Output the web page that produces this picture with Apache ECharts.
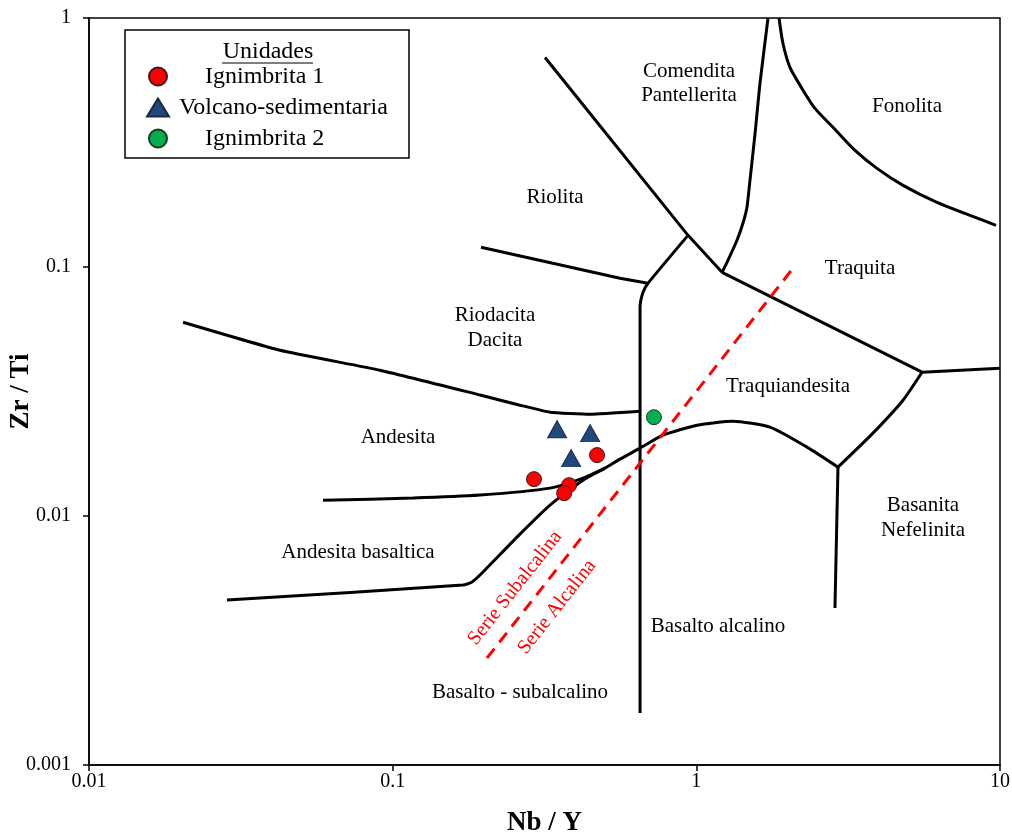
<!DOCTYPE html>
<html>
<head>
<meta charset="utf-8">
<script src="https://cdn.jsdelivr.net/npm/echarts@6/dist/echarts.min.js"></script>
<style>
html,body{margin:0;padding:0;background:#fff;}
#chart{width:1012px;height:836px;}
</style>
</head>
<body>
<div id="chart"></div>
<script>
// ---- Data (Nb/Y, Zr/Ti) ----
var ignimbrita1 = [[0.471, 0.01756], [0.292, 0.01406], [0.381, 0.01330], [0.367, 0.01235]];
var volcanoSed = [[0.348, 0.02232], [0.447, 0.02152], [0.387, 0.01708]];
var ignimbrita2 = [[0.725, 0.02493]];

// ---- Field boundaries (Nb/Y, Zr/Ti) ----
var bRiolitaComendita = [[0.3175, 0.694], [0.939, 0.134], [1.215, 0.0952]];
var bComenditaTraquita = [[1.215, 0.0952], [1.271, 0.1064], [1.361, 0.128], [1.424, 0.1498], [1.468, 0.1736], [1.502, 0.2228], [1.561, 0.344], [1.620, 0.546], [1.722, 1]];
var bFonolita = [[1.872, 1], [1.929, 0.790], [2.034, 0.633], [2.228, 0.521], [2.458, 0.4334], [2.884, 0.3536], [3.331, 0.2939], [3.934, 0.2489], [4.793, 0.2128], [6.200, 0.1818], [7.965, 0.1612], [9.701, 0.1470]];
var bTraquita = [[1.215, 0.0952], [5.535, 0.0378], [10, 0.0392]];
var bTraqBasanita = [[5.535, 0.0378], [4.793, 0.02918], [3.816, 0.02152], [2.927, 0.01571]];
var bBasanitaAlcalino = [[2.927, 0.01571], [2.861, 0.00427]];
var bTraqLower = [[0.02847, 0.004598], [0.1704, 0.005281], [0.1825, 0.00543], [0.1969, 0.005901], [0.2567, 0.008229], [0.3297, 0.01106], [0.4234, 0.01393], [0.5003, 0.01557], [0.5607, 0.01692], [0.6526, 0.01873], [0.7766, 0.02112], [1.005, 0.02316], [1.320, 0.02403], [1.748, 0.02274], [2.314, 0.0189], [2.927, 0.01571]];
var bAndesitaBas = [[0.05897, 0.01158], [0.1167, 0.0118], [0.1939, 0.01213], [0.3297, 0.01294], [0.4234, 0.01419], [0.5003, 0.01557]];
var bVertical = [[0.6526, 0.001619], [0.6526, 0.06889], [0.6674, 0.07915], [0.693, 0.086], [0.939, 0.134]];
var bRiolitaRiodacita = [[0.1954, 0.12], [0.5607, 0.0901], [0.693, 0.086]];
var bRiodacitaAndesita = [[0.0204, 0.05999], [0.04256, 0.04631], [0.09085, 0.0385], [0.1954, 0.03055], [0.2626, 0.02786], [0.3297, 0.02611], [0.4465, 0.02564], [0.6526, 0.02636]];
var serieDivide = [[0.2045, 0.00269], [2.081, 0.0988]];

var xTicks = ['0.01', '0.1', '1', '10'];
var yTicks = ['0.001', '0.01', '0.1', '1'];

var FONT = '"Liberation Serif", "Times New Roman", serif';

function boundary(data, smooth) {
  return {
    type: 'line', data: data, showSymbol: false, silent: true, smooth: smooth || false,
    lineStyle: { color: '#000', width: 3 }, z: 3, animation: false
  };
}
function lbl(text, x, y, opts) {
  opts = opts || {};
  return {
    type: 'text', x: x, y: y, rotation: opts.rot || 0, z: 50,
    style: {
      text: text, fill: opts.color || '#000', align: 'center', verticalAlign: 'middle',
      font: (opts.size || 21) + 'px ' + FONT
    }
  };
}

var chart = echarts.init(document.getElementById('chart'), null, { renderer: 'canvas' });
var option = {
  backgroundColor: '#fff',
  animation: false,
  grid: { left: 89, right: 12, top: 18, bottom: 71, containLabel: false, outerBoundsMode: 'none',
    show: true, borderColor: '#000', borderWidth: 1.5, backgroundColor: 'transparent' },
  xAxis: {
    type: 'log', logBase: 10, min: 0.01, max: 10,
    name: 'Nb / Y', nameLocation: 'middle', nameGap: 45, nameMoveOverlap: false,
    nameTextStyle: { fontFamily: FONT, fontWeight: 'bold', fontSize: 27, color: '#000' },
    axisLine: { show: true, onZero: false, lineStyle: { color: '#000', width: 1.5 } },
    axisTick: { show: true, inside: false, length: 6, lineStyle: { color: '#000', width: 1.5 } },
    minorTick: { show: false }, splitLine: { show: false },
    axisLabel: { fontFamily: FONT, fontSize: 20, color: '#000', margin: 7,
      formatter: function (v) { var i = Math.round(Math.log10(v)) + 2; return xTicks[i] !== undefined ? xTicks[i] : ''; } }
  },
  yAxis: {
    type: 'log', logBase: 10, min: 0.001, max: 1,
    name: 'Zr / Ti', nameLocation: 'middle', nameGap: 54, nameMoveOverlap: false,
    nameTextStyle: { fontFamily: FONT, fontWeight: 'bold', fontSize: 27, color: '#000' },
    axisLine: { show: true, onZero: false, lineStyle: { color: '#000', width: 1.5 } },
    axisTick: { show: true, inside: false, length: 6, lineStyle: { color: '#000', width: 1.5 } },
    minorTick: { show: false }, splitLine: { show: false },
    axisLabel: { fontFamily: FONT, fontSize: 20, color: '#000', margin: 18,
      formatter: function (v) { var i = Math.round(Math.log10(v)) + 3; return yTicks[i] !== undefined ? yTicks[i] : ''; } }
  },
  legend: {
    show: true, orient: 'vertical', left: 146, top: 61, padding: 0, itemWidth: 22, itemHeight: 18, itemGap: 0,
    selectedMode: false, z: 60,
    textStyle: { fontFamily: FONT, fontSize: 24, color: '#000', lineHeight: 31 },
    data: [
      { name: 'Ignimbrita 1', textStyle: { padding: [0, 0, 0, 31] } },
      { name: 'Volcano-sedimentaria', textStyle: { padding: [0, 0, 0, 5] } },
      { name: 'Ignimbrita 2', textStyle: { padding: [0, 0, 0, 31] } }
    ]
  },
  graphic: [
    { type: 'rect', shape: { x: 125, y: 30, width: 284, height: 128 }, style: { fill: 'none', stroke: '#000', lineWidth: 1.5 }, z: 40 },
    lbl('Unidades', 268, 52, { size: 24 }),
    { type: 'line', shape: { x1: 222, y1: 63, x2: 313, y2: 63 }, style: { stroke: '#000', lineWidth: 1.2 }, z: 50 },
    lbl('Comendita', 689, 71),
    lbl('Pantellerita', 689, 95),
    lbl('Fonolita', 907, 106),
    lbl('Riolita', 555, 197),
    lbl('Traquita', 860, 268),
    lbl('Riodacita', 495, 315),
    lbl('Dacita', 495, 340),
    lbl('Traquiandesita', 788, 386),
    lbl('Andesita', 398, 437),
    lbl('Basanita', 923, 505),
    lbl('Nefelinita', 923, 530),
    lbl('Andesita basaltica', 358, 552),
    lbl('Basalto alcalino', 718, 626),
    lbl('Basalto - subalcalino', 520, 692),
    lbl('Serie Subalcalina', 515, 588, { color: '#FF0000', size: 20, rot: 0.905 }),
    lbl('Serie Alcalina', 557, 607, { color: '#FF0000', size: 20, rot: 0.905 })
  ],
  series: [
    boundary(bRiolitaComendita),
    boundary(bComenditaTraquita, 0.15),
    boundary(bFonolita, 0.25),
    boundary(bTraquita),
    boundary(bTraqBasanita, 0.2),
    boundary(bBasanitaAlcalino),
    boundary(bTraqLower, 0.2),
    boundary(bAndesitaBas, 0.2),
    boundary(bVertical, 0.2),
    boundary(bRiolitaRiodacita),
    boundary(bRiodacitaAndesita, 0.15),
    {
      type: 'line', data: serieDivide, showSymbol: false, silent: true, animation: false, z: 4,
      lineStyle: { color: '#FF0000', width: 3, type: [12, 8] }
    },
    {
      name: 'Ignimbrita 1', type: 'scatter', data: ignimbrita1, symbol: 'circle', symbolSize: 15, z: 10,
      itemStyle: { color: '#FF0000', borderColor: '#3a1a1a', borderWidth: 1, opacity: 1 }
    },
    {
      name: 'Volcano-sedimentaria', type: 'scatter', data: volcanoSed, symbol: 'triangle', symbolSize: [19, 17], z: 10,
      itemStyle: { color: '#1F497D', borderColor: '#1a2a40', borderWidth: 1, opacity: 1 }
    },
    {
      name: 'Ignimbrita 2', type: 'scatter', data: ignimbrita2, symbol: 'circle', symbolSize: 15, z: 10,
      itemStyle: { color: '#00B050', borderColor: '#1a3a1a', borderWidth: 1, opacity: 1 }
    }
  ]
};
chart.setOption(option);
</script>
</body>
</html>
